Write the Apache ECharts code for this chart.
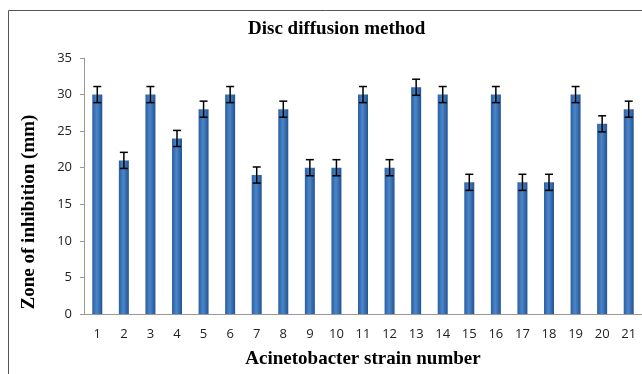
<!DOCTYPE html>
<html>
<head>
<meta charset="utf-8">
<script src="https://cdn.jsdelivr.net/npm/echarts@6/dist/echarts.min.js"></script>
<style>
  html, body { margin: 0; padding: 0; background: #fff; }
  #chart { width: 642px; height: 374px; }
</style>
</head>
<body>
<div id="chart"></div>
<script>
const strains = ['1','2','3','4','5','6','7','8','9','10','11','12','13','14','15','16','17','18','19','20','21'];
const zoneValues = [30, 21, 30, 24, 28, 30, 19, 28, 20, 20, 30, 20, 31, 30, 18, 30, 18, 18, 30, 26, 28];
const zoneErrors = [1.1, 1.1, 1.1, 1.1, 1.1, 1.1, 1.1, 1.1, 1.1, 1.1, 1.1, 1.1, 1.1, 1.1, 1.1, 1.1, 1.1, 1.1, 1.1, 1.1, 1.1];
const yTicks = [0, 5, 10, 15, 20, 25, 30, 35];

const serif = '"Liberation Serif", "DejaVu Serif", serif';
const sans = '"Open Sans", "DejaVu Sans", sans-serif';
const chart = echarts.init(document.getElementById('chart'));

const errorData = zoneValues.map((v, i) => [i, v - zoneErrors[i], v + zoneErrors[i]]);

chart.setOption({
  animation: false,
  title: {
    text: 'Disc diffusion method',
    left: 243,
    top: 15,
    textStyle: { fontFamily: serif, fontSize: 19, fontWeight: 'bold', color: '#000' }
  },
  graphic: [
    {
      type: 'rect',
      shape: { x: 8.5, y: 10.5, width: 700, height: 400 },
      style: { fill: 'none', stroke: '#555', lineWidth: 1 },
      silent: true
    },
    {
      // y axis title, placed where the reference has it
      type: 'text',
      x: 29,
      y: 212,
      rotation: Math.PI / 2,
      style: {
        text: 'Zone of inhibition (mm)',
        font: 'bold 19px ' + serif,
        fill: '#000',
        align: 'center',
        verticalAlign: 'middle'
      }
    }
  ],
  grid: { left: 84, top: 58, width: 560, height: 257 },
  xAxis: {
    type: 'category',
    data: strains,
    name: 'Acinetobacter strain number',
    nameLocation: 'middle',
    nameGap: 36,
    nameTextStyle: { fontFamily: serif, fontSize: 19, fontWeight: 'bold', color: '#000' },
    axisLine: { lineStyle: { color: '#999' } },
    axisTick: { lineStyle: { color: '#999' }, length: 4 },
    axisLabel: { fontFamily: sans, fontSize: 13, color: '#222', margin: 14 }
  },
  yAxis: {
    type: 'value',
    min: yTicks[0],
    max: yTicks[yTicks.length - 1],
    interval: 5,
    splitLine: { show: false },
    axisLine: { show: true, lineStyle: { color: '#999' } },
    axisTick: { show: true, length: 4, lineStyle: { color: '#999' } },
    axisLabel: { fontFamily: sans, fontSize: 13, color: '#222', margin: 12 }
  },
  series: [
    {
      type: 'bar',
      data: zoneValues,
      barWidth: 10,
      itemStyle: {
        color: new echarts.graphic.LinearGradient(0, 0, 1, 0, [
          { offset: 0, color: '#2b5e9e' },
          { offset: 0.45, color: '#4a86cc' },
          { offset: 1, color: '#24528e' }
        ])
      }
    },
    {
      type: 'custom',
      data: errorData,
      z: 5,
      renderItem: function (params, api) {
        const x = api.coord([api.value(0), api.value(1)])[0];
        const lo = api.coord([api.value(0), api.value(1)])[1];
        const hi = api.coord([api.value(0), api.value(2)])[1];
        const half = 4;
        const style = { stroke: '#000', lineWidth: 1.5 };
        return {
          type: 'group',
          children: [
            { type: 'line', shape: { x1: x, y1: lo, x2: x, y2: hi }, style: style },
            { type: 'line', shape: { x1: x - half, y1: lo, x2: x + half, y2: lo }, style: style },
            { type: 'line', shape: { x1: x - half, y1: hi, x2: x + half, y2: hi }, style: style }
          ]
        };
      }
    }
  ]
});
</script>
</body>
</html>
